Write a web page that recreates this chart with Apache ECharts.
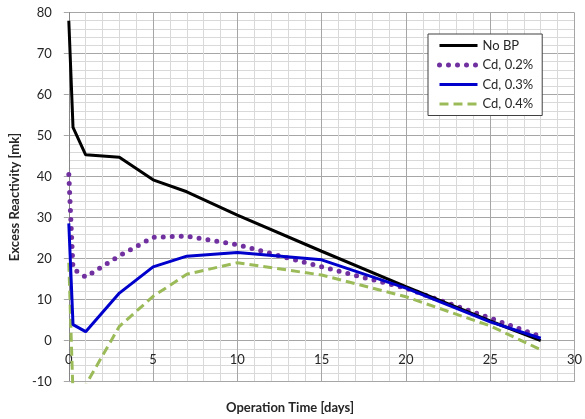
<!DOCTYPE html>
<html>
<head>
<meta charset="utf-8">
<script src="https://cdn.jsdelivr.net/npm/echarts@6/dist/echarts.min.js"></script>
<style>
html,body{margin:0;padding:0;background:#fff;}
#c{width:585px;height:419px;}
</style>
</head>
<body>
<div id="c"></div>
<script>
// Data
var days = [0, 0.25, 1, 3, 5, 7, 10, 15, 20, 25, 28];
var noBP  = [78, 52, 45.3, 44.7, 39.2, 36.3, 30.6, 21.8, 13.2, 4.8, 0];
var cd02  = [40.5, 17.5, 15.5, 20.7, 25.2, 25.5, 23.4, 18.0, 12.8, 5.5, 1.0];
var cd03  = [28.6, 3.9, 2.2, 11.6, 18.0, 20.6, 21.5, 19.7, 12.8, 4.6, 0.6];
var cd04  = [19, -13, -10.8, 3.5, 10.8, 16.2, 19.0, 16.0, 10.7, 3.6, -2.2];
var seriesNames = ['No BP', 'Cd, 0.2%', 'Cd, 0.3%', 'Cd, 0.4%'];
var xTicks = {min: 0, max: 30, interval: 5};
var yTicks = {min: -10, max: 80, interval: 10};

function pairs(v){ return days.map(function(d,i){ return [d, v[i]]; }); }

var font = 'Lato, "Open Sans", sans-serif';
var legendWidths = [3, 5, 3, 3];
var chart = echarts.init(document.getElementById('c'), null, {renderer:'canvas'});
chart.setOption({
  animation: false,
  backgroundColor: '#ffffff',
  grid: {left: 67.5, top: 12.5, right: 4.3, bottom: 37.3, containLabel: false},
  xAxis: {
    type: 'value', min: xTicks.min, max: xTicks.max, interval: xTicks.interval,
    axisLine: {show: true, onZero: false, lineStyle: {color: '#a6a6a6', width: 1}},
    axisTick: {show: false},
    axisLabel: {color: '#262626', fontSize: 13, fontFamily: font, margin: -28},
    splitLine: {show: true, lineStyle: {color: '#a6a6a6', width: 1}},
    minorTick: {show: false, splitNumber: 5},
    minorSplitLine: {show: true, lineStyle: {color: '#d9d9d9', width: 1}}
  },
  yAxis: {
    type: 'value', min: yTicks.min, max: yTicks.max, interval: yTicks.interval,
    name: 'Excess Reactivity [mk]', nameLocation: 'middle', nameGap: 40,
    nameTextStyle: {color: '#262626', fontSize: 13, fontWeight: 'bold', fontFamily: font},
    axisLine: {show: true, onZero: false, lineStyle: {color: '#868686', width: 1}},
    axisTick: {show: true, length: 5, lineStyle: {color: '#a6a6a6'}},
    axisLabel: {color: '#262626', fontSize: 13, fontFamily: font, margin: 17},
    splitLine: {show: true, lineStyle: {color: '#a6a6a6', width: 1}},
    minorTick: {show: false, splitNumber: 5},
    minorSplitLine: {show: true, lineStyle: {color: '#d9d9d9', width: 1}}
  },
  graphic: [{
    type: 'text', x: 290, y: 408,
    style: {text: 'Operation Time [days]', fill: '#262626', font: 'bold 13px ' + font, align: 'center', verticalAlign: 'middle'}
  }],
  legend: {
    orient: 'vertical', left: 428, top: 34,
    backgroundColor: '#ffffff', borderColor: '#404040', borderWidth: 1,
    padding: [5, 9, 5, 9], itemWidth: 38, itemHeight: 13, itemGap: 6.5, itemTextGap: 5,
    itemStyle: {opacity: 0},
    textStyle: {color: '#262626', fontSize: 13, fontFamily: font},
    data: seriesNames.map(function(n, i){ return {name: n, lineStyle: {width: legendWidths[i]}}; })
  },
  series: [
    {name: seriesNames[0], type: 'line', data: pairs(noBP), symbol: 'none', clip: true, z: 5,
     lineStyle: {color: '#000000', width: 3}, itemStyle: {color: '#000000'}},
    {name: seriesNames[1], type: 'line', data: pairs(cd02), symbol: 'none', clip: true, z: 4,
     lineStyle: {color: '#7030a0', width: 5, type: [0, 9], cap: 'round'}, itemStyle: {color: '#7030a0'}},
    {name: seriesNames[2], type: 'line', data: pairs(cd03), symbol: 'none', clip: true, z: 6,
     lineStyle: {color: '#0000cc', width: 3}, itemStyle: {color: '#0000cc'}},
    {name: seriesNames[3], type: 'line', data: pairs(cd04), symbol: 'none', clip: true, z: 3,
     lineStyle: {color: '#9bbb59', width: 3, type: [9, 5]}, itemStyle: {color: '#9bbb59'}}
  ]
});
</script>
</body>
</html>
